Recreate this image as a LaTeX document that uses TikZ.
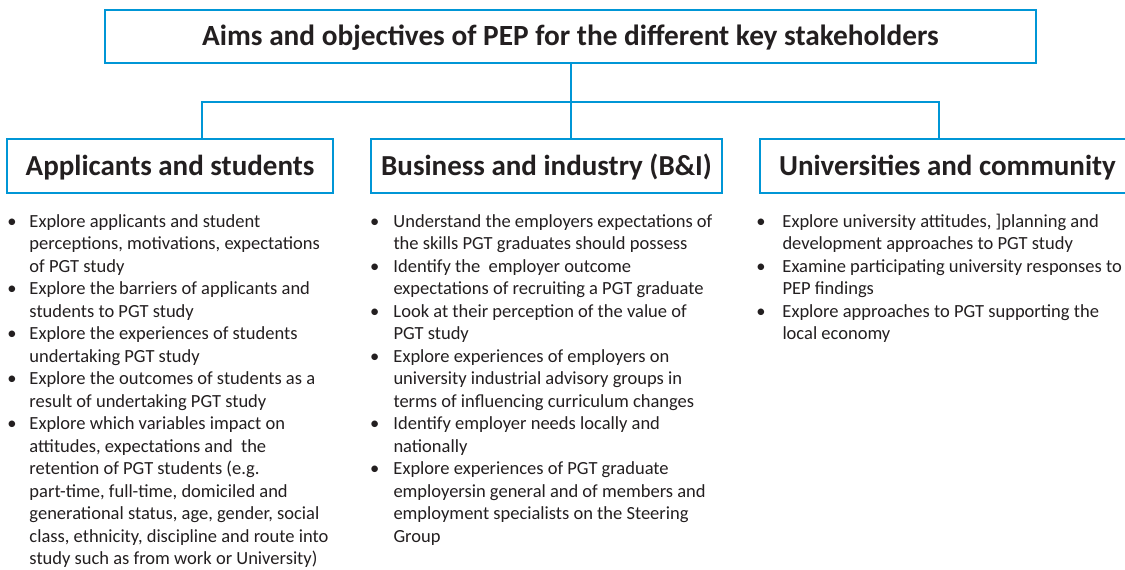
\documentclass[tikz,border=0pt]{standalone}
\usepackage{fontspec}
\setmainfont{Carlito}
\usepackage{array}
\definecolor{pblue}{RGB}{0,150,214}
\definecolor{ptext}{RGB}{35,31,32}
\begin{document}
\begin{tikzpicture}[x=1pt,y=-1pt,
  box/.style={draw=pblue,line width=2pt,inner sep=0pt,text=ptext,
    font=\bfseries\fontsize{29}{34}\selectfont,minimum height=54pt,
    text height=18.7pt,text depth=0pt},
  conn/.style={draw=pblue,line width=2pt},
  col/.style={anchor=base west,inner sep=0pt,text=ptext,
    font=\fontsize{18.5}{22.5}\selectfont}]
\useasboundingbox (0,0) rectangle (1125,570);
\clip (0,0) rectangle (1125,570);
\fill[white] (0,0) rectangle (1125,570);

\node[box,minimum width=931pt,minimum height=53pt,
  font=\bfseries\fontsize{29.3}{34}\selectfont,text height=18.9pt] (top) at (570.5,36.5)
  {Aims and objectives of PEP for the different key stakeholders};

\node[box,minimum width=326pt] (app) at (170,166) {Applicants and students};
\node[box,minimum width=351pt] (bus) at (546.5,166) {Business and industry (B\&I)};
\node[box,minimum width=375pt] (uni) at (947.5,166) {Universities and community};

\coordinate (la) at (202,102);
\coordinate (ra) at (939,102);
\draw[conn] (top.south) -- (top.south |- bus.north);
\draw[conn] (la |- app.north) -- (la) -- (ra) -- (ra |- uni.north);

\node[col] (c1) at (7.2,227) {\begin{tabular}[t]{@{}p{22.1pt}@{}l@{}}
\textbullet & Explore applicants and student\\
 & perceptions, motivations, expectations\\
 & of PGT study\\
\textbullet & Explore the barriers of applicants and\\
 & students to PGT study\\
\textbullet & Explore the experiences of students\\
 & undertaking PGT study\\
\textbullet & Explore the outcomes of students as a\\
 & result of undertaking PGT study\\
\textbullet & Explore which variables impact on\\
 & attitudes, expectations and\ \ the\\
 & retention of PGT students (e.g.\\
 & part-time, full-time, domiciled and\\
 & generational status, age, gender, social\\
 & class, ethnicity, discipline and route into\\
 & study such as from work or University)
\end{tabular}};

\node[col] (c2) at (369.8,227) {\begin{tabular}[t]{@{}p{23.5pt}@{}l@{}}
\textbullet & Understand the employers expectations of\\
 & the skills PGT graduates should possess\\
\textbullet & Identify the\ \ employer outcome\\
 & expectations of recruiting a PGT graduate\\
\textbullet & Look at their perception of the value of\\
 & PGT study\\
\textbullet & Explore experiences of employers on\\
 & university industrial advisory groups in\\
 & terms of influencing curriculum changes\\
\textbullet & Identify employer needs locally and\\
 & nationally\\
\textbullet & Explore experiences of PGT graduate\\
 & employersin general and of members and\\
 & employment specialists on the Steering\\
 & Group
\end{tabular}};

\node[col] (c3) at (756.2,227) {\begin{tabular}[t]{@{}p{26.1pt}@{}l@{}}
\textbullet & Explore university attitudes, ]planning and\\
 & development approaches to PGT study\\
\textbullet & Examine participating university responses to\\
 & PEP findings\\
\textbullet & Explore approaches to PGT supporting the\\
 & local economy
\end{tabular}};
\end{tikzpicture}
\end{document}
